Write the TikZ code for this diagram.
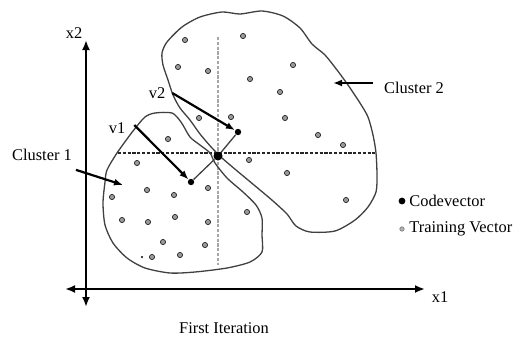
\documentclass[tikz,border=0pt]{standalone}
\usepackage{fontspec}
\setmainfont{Liberation Serif}
\usetikzlibrary{arrows.meta,positioning}
\tikzset{
  every node/.style={font=\fontsize{8.2}{9.5}\selectfont, text=black},
  axisline/.style={
    line width=1.1pt,
    {Latex[length=5pt,width=4pt]}-{Latex[length=5pt,width=4pt]}
  },
  outline/.style={line width=0.65pt, draw=black!75},
  pointer/.style={
    -{Latex[length=4.5pt,width=3.5pt]},
    line width=1.1pt
  },
  trainvec/.style={
    circle,
    fill=black!40,
    draw=black!85,
    line width=0.35pt,
    inner sep=0pt,
    minimum size=2.6pt
  },
  codevec/.style={circle, fill=black, inner sep=0pt, minimum size=3.2pt},
  splitline/.style={line width=1.3pt, dash pattern=on 1.6pt off 0.8pt}
}

\begin{document}
\begin{tikzpicture}[x=0.5pt,y=-0.5pt]
  \useasboundingbox (0,0) rectangle (523,338);

  % axes
  \coordinate (ytop) at (86,40);
  \coordinate (ybot) at (86,307);
  \coordinate (xleft) at (65,289);
  \coordinate (xright) at (425,289);
  \draw[axisline] (ybot) -- (ytop);
  \draw[axisline] (xleft) -- (xright);
  \node (xtwo) at (74,33) {x2};
  \node (xone) at (440,297) {x1};

  % split lines through the centroid
  \coordinate (hleft) at (118,153);
  \coordinate (hright) at (375,153);
  \coordinate (vtop) at (218,37);
  \coordinate (vbot) at (218,265);
  \draw[splitline, black!85] (hleft) -- (hright);
  \draw[splitline, black!35] (vtop) -- (vbot);

  % cluster 2
  \draw[outline] plot[smooth cycle, tension=0.45] coordinates {
    (200,17) (222,12) (240,14) (262,11) (283,16) (300,28) (312,44)
    (325,55) (337,70) (348,85) (360,103) (368,117) (373,135) (376,153)
    (377,175) (376,192) (368,207) (355,220) (335,231) (310,232)
    (296,226) (287,214) (273,201) (260,190) (248,180) (236,170)
    (222,158) (212,148) (200,134) (190,120) (180,108) (173,95)
    (168,80) (163,65) (162,53) (167,42) (182,27)
  };

  % cluster 1
  \draw[outline] plot[smooth cycle, tension=0.45] coordinates {
    (107,170) (117,153) (133,131) (145,117) (155,113) (172,113)
    (181,122) (190,137) (200,145) (210,153) (215,163) (227,178)
    (243,192) (256,205) (262,218) (262,235) (262,252) (250,262)
    (227,268) (195,272) (170,273) (145,268) (127,258) (113,243)
    (105,225) (103,203) (105,182)
  };

  % training vectors
  \foreach \px/\py in {
    185/40, 243/36, 178/67, 208/71, 293/65, 250/79, 280/92, 199/118,
    231/117, 285/118, 318/135, 343/145, 249/160, 287/173, 346/200,
    168/139, 137/163, 112/197, 147/190, 174/195, 208/188, 122/220,
    148/222, 175/217, 208/222, 163/242, 205/245, 152/257, 180/255,
    247/212
  }{
    \node[trainvec] at (\px,\py) {};
  }
  \fill (142,257) circle (0.6pt);

  % codevectors
  \node[codevec, minimum size=4.5pt] (c0) at (218,156) {};
  \node[codevec] (cv1) at (191,182) {};
  \node[codevec] (cv2) at (238,132) {};
  \draw[outline] (cv1) -- (c0) -- (cv2);

  \node (vone) at (117,128) {v1};
  \node (vtwo) at (157,93) {v2};
  \draw[pointer] (vone.east) ++(2,-3) -- (cv1);
  \draw[pointer] (vtwo.east) -- (cv2);

  % cluster labels
  \node (clone) at (42,155) {Cluster 1};
  \node (cltwo) at (414,88) {Cluster 2};
  \coordinate (clonetip) at (123,185);
  \coordinate (cltwotip) at (333,83);
  \draw[pointer] (clone.south east) ++(-3,2) -- (clonetip);
  \draw[pointer] (cltwo.west) ++(-4,-5) -- (cltwotip);

  % legend
  \node[codevec, minimum size=3.4pt] (keycode) at (402,201) {};
  \node[anchor=west, inner sep=1pt] (keycodetxt) at (407,201) {Codevector};
  \node[trainvec, minimum size=2.2pt, fill=black!30, draw=black!50] (keytrain) at (402,229) {};
  \node[anchor=west, inner sep=1pt] (keytraintxt) at (407,229) {Training Vector};

  \node (caption) at (224,328) {First Iteration};
\end{tikzpicture}
\end{document}
